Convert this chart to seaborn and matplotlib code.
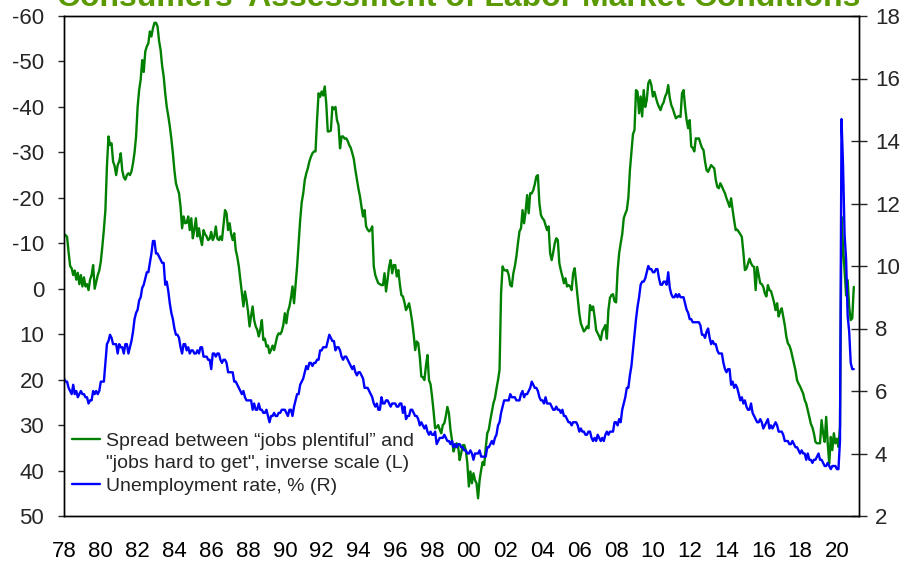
import pandas as pd
import seaborn as sns
import matplotlib.pyplot as plt
from matplotlib.lines import Line2D

# Monthly values, Jan 1978 - Dec 2020, one row per year
spread = [
    -12.0, -11.8, -11.4, -8.0, -5.0, -4.5, -3.0, -4.0, -2.0, -3.5, -1.0, -3.0,          # 1978
    -0.5, -2.5, -0.5, -1.0, 0.3, -2.0, -3.0, -5.2, 0.0, -1.5, -3.0, -4.0,               # 1979
    -6.0, -9.3, -13.0, -17.3, -27.0, -33.5, -31.6, -32.0, -28.0, -27.0, -25.0, -27.2,   # 1980
    -28.0, -29.8, -26.0, -24.5, -24.0, -25.0, -25.4, -25.0, -25.8, -27.6, -30.0, -33.5, # 1981
    -40.0, -43.7, -46.0, -50.3, -47.7, -52.2, -53.3, -54.0, -56.6, -55.5, -57.3, -58.5, # 1982
    -58.5, -57.7, -54.5, -52.5, -49.0, -46.7, -43.0, -40.0, -38.0, -35.7, -33.0, -29.8, # 1983
    -26.0, -23.2, -22.0, -21.0, -18.0, -13.3, -15.9, -14.4, -14.5, -15.9, -12.9, -15.5, # 1984
    -11.1, -13.0, -15.5, -11.5, -13.3, -11.0, -9.6, -12.9, -12.0, -11.5, -10.7, -11.0,  # 1985
    -12.5, -10.7, -11.5, -13.7, -11.0, -10.7, -11.5, -10.7, -14.0, -17.3, -16.6, -12.9, # 1986
    -14.4, -12.0, -10.7, -12.2, -8.5, -7.0, -4.9, -2.0, 1.0, 3.9, 0.6, 2.5,             # 1987
    5.0, 8.3, 6.0, 3.9, 6.9, 8.3, 9.0, 10.5, 9.0, 6.9, 11.3, 11.0,                      # 1988
    12.7, 12.5, 14.2, 13.5, 12.5, 13.5, 12.0, 10.5, 9.8, 10.0, 9.4, 8.0,                # 1989
    5.4, 7.6, 5.0, 3.9, 2.0, -0.5, 3.2, -1.0, -4.9, -10.0, -15.1, -19.0,                # 1990
    -21.0, -23.9, -25.4, -26.5, -28.0, -29.0, -29.8, -30.2, -30.2, -37.1, -43.0, -42.2, # 1991
    -43.4, -42.5, -44.5, -40.8, -34.6, -34.6, -34.8, -40.0, -39.5, -40.0, -37.1, -36.0, # 1992
    -30.9, -33.5, -33.5, -33.0, -33.1, -32.5, -31.6, -31.0, -29.8, -28.5, -26.1, -24.0, # 1993
    -22.0, -20.3, -18.0, -15.9, -17.3, -13.7, -13.0, -12.6, -13.0, -13.7, -4.9, -3.0,   # 1994
    -2.0, -1.2, -1.0, -0.8, -0.8, -3.4, 0.6, -2.0, -4.9, -6.3, -3.4, -5.2,              # 1995
    -5.2, -2.7, -4.1, -1.0, 1.4, 1.7, 3.0, 4.7, 4.0, 3.2, 5.0, 7.2,                     # 1996
    10.0, 13.5, 11.6, 12.0, 15.0, 19.3, 19.5, 20.1, 17.0, 14.6, 20.1, 21.0,             # 1997
    23.7, 27.0, 30.7, 30.5, 30.0, 31.0, 31.8, 30.0, 29.6, 28.0, 26.0, 27.4,             # 1998
    31.0, 33.3, 35.8, 34.7, 34.0, 34.7, 37.7, 36.2, 34.4, 34.4, 35.5, 38.4,             # 1999
    43.5, 40.2, 42.8, 40.6, 42.1, 42.8, 46.1, 42.1, 39.9, 38.1, 38.8, 35.0,             # 2000
    31.8, 31.0, 28.9, 27.0, 25.2, 24.1, 22.0, 20.1, 17.9, 1.0, -4.9, -4.1,              # 2001
    -4.0, -4.1, -3.0, -0.8, -0.5, -3.4, -5.0, -7.1, -10.0, -12.6, -13.3, -17.3,         # 2002
    -14.4, -17.0, -20.6, -16.6, -21.0, -21.0, -21.7, -23.0, -24.7, -25.0, -18.8, -16.2, # 2003
    -15.5, -15.1, -14.0, -12.9, -13.7, -7.8, -6.3, -8.0, -10.0, -11.1, -10.7, -5.6,     # 2004
    -4.0, -2.7, -1.2, -2.3, -0.5, -0.8, -0.5, 0.3, -3.4, -4.5, -1.2, 2.0,               # 2005
    5.4, 7.6, 8.5, 9.4, 9.0, 8.3, 8.7, 3.6, 4.7, 3.9, 6.2, 9.1,                         # 2006
    9.8, 10.5, 11.3, 9.4, 8.7, 8.0, 11.0, 4.7, 2.0, 1.4, 1.2, 2.8,                      # 2007
    3.0, -4.0, -7.8, -10.0, -12.0, -15.5, -16.5, -17.3, -20.0, -26.0, -30.0, -34.0,     # 2008
    -34.9, -43.7, -43.3, -38.6, -42.3, -37.9, -43.7, -40.0, -41.5, -45.2, -45.9, -44.8, # 2009
    -42.3, -43.3, -42.0, -40.8, -40.0, -39.3, -40.4, -41.0, -42.3, -43.0, -44.8, -42.0, # 2010
    -40.4, -39.6, -38.5, -37.5, -37.8, -38.0, -37.8, -43.0, -43.7, -40.0, -37.1, -35.3, # 2011
    -37.1, -31.3, -31.0, -30.2, -33.1, -33.0, -33.1, -32.0, -31.0, -30.5, -28.0, -26.1, # 2012
    -25.7, -26.5, -27.2, -26.8, -26.5, -24.0, -22.4, -22.1, -23.2, -22.5, -21.7, -21.0, # 2013
    -19.9, -19.0, -18.0, -19.9, -17.3, -15.0, -12.9, -13.0, -12.5, -12.0, -11.4, -8.0,  # 2014
    -4.1, -4.4, -5.5, -6.6, -5.6, -5.0, -4.8, 0.3, -4.8, -3.0, -1.2, -1.0,              # 2015
    -0.4, 1.0, 1.7, -0.8, 0.3, 0.5, 1.7, 3.0, 4.7, 3.2, 6.1, 5.0,                       # 2016
    4.3, 6.1, 8.0, 10.5, 12.0, 12.5, 13.5, 15.0, 16.5, 18.0, 20.1, 20.9,                # 2017
    21.5, 22.3, 23.1, 24.5, 25.3, 26.7, 28.2, 29.7, 30.5, 31.8, 33.7, 34.0,             # 2018
    34.0, 34.0, 28.9, 31.8, 33.7, 28.2, 34.0, 38.5, 32.6, 35.5, 31.8, 34.0,             # 2019
    33.0, 34.8, 30.4, -15.8, -9.0, -4.0, 1.5, -1.9, 4.0, 6.9, 6.5, -0.4,                # 2020
]

unemployment = [
    6.4, 6.3, 6.3, 6.1, 6.0, 5.9, 6.2, 5.9, 6.0, 5.8, 5.9, 6.0,        # 1978
    5.9, 5.9, 5.8, 5.8, 5.6, 5.7, 5.7, 6.0, 5.9, 6.0, 5.9, 6.0,        # 1979
    6.3, 6.3, 6.3, 6.9, 7.5, 7.6, 7.8, 7.7, 7.5, 7.5, 7.5, 7.2,        # 1980
    7.5, 7.4, 7.4, 7.2, 7.5, 7.5, 7.2, 7.4, 7.6, 7.9, 8.3, 8.5,        # 1981
    8.6, 8.9, 9.0, 9.3, 9.4, 9.6, 9.8, 9.8, 10.1, 10.4, 10.8, 10.8,    # 1982
    10.4, 10.4, 10.3, 10.2, 10.1, 10.1, 9.4, 9.5, 9.2, 8.8, 8.5, 8.3,  # 1983
    8.0, 7.8, 7.8, 7.7, 7.4, 7.2, 7.5, 7.5, 7.3, 7.4, 7.2, 7.3,        # 1984
    7.3, 7.2, 7.2, 7.3, 7.2, 7.4, 7.4, 7.1, 7.1, 7.1, 7.0, 7.0,        # 1985
    6.7, 7.2, 7.2, 7.1, 7.2, 7.2, 7.0, 6.9, 7.0, 7.0, 6.9, 6.6,        # 1986
    6.6, 6.6, 6.6, 6.3, 6.3, 6.2, 6.1, 6.0, 5.9, 6.0, 5.8, 5.7,        # 1987
    5.7, 5.7, 5.7, 5.4, 5.6, 5.4, 5.4, 5.6, 5.4, 5.4, 5.3, 5.3,        # 1988
    5.4, 5.2, 5.0, 5.2, 5.2, 5.3, 5.2, 5.2, 5.3, 5.3, 5.4, 5.4,        # 1989
    5.4, 5.3, 5.2, 5.4, 5.4, 5.2, 5.5, 5.7, 5.9, 5.9, 6.2, 6.3,        # 1990
    6.4, 6.6, 6.8, 6.7, 6.9, 6.9, 6.8, 6.9, 6.9, 7.0, 7.0, 7.3,        # 1991
    7.3, 7.4, 7.4, 7.4, 7.6, 7.8, 7.7, 7.6, 7.6, 7.3, 7.4, 7.4,        # 1992
    7.3, 7.1, 7.0, 7.1, 7.1, 7.0, 6.9, 6.8, 6.7, 6.8, 6.6, 6.5,        # 1993
    6.6, 6.6, 6.5, 6.4, 6.1, 6.1, 6.1, 6.0, 5.9, 5.8, 5.6, 5.5,        # 1994
    5.6, 5.4, 5.4, 5.8, 5.6, 5.6, 5.7, 5.7, 5.6, 5.5, 5.6, 5.6,        # 1995
    5.6, 5.5, 5.5, 5.6, 5.6, 5.3, 5.5, 5.1, 5.2, 5.2, 5.4, 5.4,        # 1996
    5.3, 5.2, 5.2, 5.1, 4.9, 5.0, 4.9, 4.8, 4.9, 4.7, 4.6, 4.7,        # 1997
    4.6, 4.6, 4.7, 4.3, 4.4, 4.5, 4.5, 4.5, 4.6, 4.5, 4.4, 4.4,        # 1998
    4.3, 4.4, 4.2, 4.3, 4.2, 4.3, 4.3, 4.2, 4.2, 4.1, 4.1, 4.0,        # 1999
    4.0, 4.1, 4.0, 3.8, 4.0, 4.0, 4.0, 4.1, 3.9, 3.9, 3.9, 3.9,        # 2000
    4.2, 4.2, 4.3, 4.4, 4.3, 4.5, 4.6, 4.9, 5.0, 5.3, 5.5, 5.7,        # 2001
    5.7, 5.7, 5.7, 5.9, 5.8, 5.8, 5.8, 5.7, 5.7, 5.7, 5.9, 6.0,        # 2002
    5.8, 5.9, 5.9, 6.0, 6.1, 6.3, 6.2, 6.1, 6.1, 6.0, 5.8, 5.7,        # 2003
    5.7, 5.6, 5.8, 5.6, 5.6, 5.6, 5.5, 5.4, 5.4, 5.5, 5.4, 5.4,        # 2004
    5.3, 5.4, 5.2, 5.2, 5.1, 5.0, 5.0, 4.9, 5.0, 5.0, 5.0, 4.9,        # 2005
    4.7, 4.8, 4.7, 4.7, 4.6, 4.6, 4.7, 4.7, 4.5, 4.4, 4.5, 4.4,        # 2006
    4.6, 4.5, 4.4, 4.5, 4.4, 4.6, 4.7, 4.6, 4.7, 4.7, 4.7, 5.0,        # 2007
    5.0, 4.9, 5.1, 5.0, 5.4, 5.6, 5.8, 6.1, 6.1, 6.5, 6.8, 7.3,        # 2008
    7.8, 8.3, 8.7, 9.0, 9.4, 9.5, 9.5, 9.6, 9.8, 10.0, 9.9, 9.9,       # 2009
    9.8, 9.8, 9.9, 9.9, 9.6, 9.4, 9.4, 9.5, 9.5, 9.4, 9.8, 9.3,        # 2010
    9.1, 9.0, 9.0, 9.1, 9.0, 9.1, 9.0, 9.0, 9.0, 8.8, 8.6, 8.5,        # 2011
    8.3, 8.3, 8.2, 8.2, 8.2, 8.2, 8.2, 8.1, 7.8, 7.8, 7.7, 7.9,        # 2012
    8.0, 7.7, 7.5, 7.6, 7.5, 7.5, 7.3, 7.2, 7.2, 7.2, 6.9, 6.7,        # 2013
    6.6, 6.7, 6.7, 6.2, 6.3, 6.1, 6.2, 6.1, 5.9, 5.7, 5.8, 5.6,        # 2014
    5.7, 5.5, 5.4, 5.4, 5.6, 5.3, 5.2, 5.1, 5.0, 5.0, 5.1, 5.0,        # 2015
    4.8, 4.9, 5.0, 5.1, 4.8, 4.9, 4.8, 4.9, 5.0, 4.9, 4.7, 4.7,        # 2016
    4.7, 4.6, 4.4, 4.4, 4.4, 4.3, 4.3, 4.4, 4.3, 4.2, 4.2, 4.1,        # 2017
    4.0, 4.1, 4.0, 4.0, 3.8, 4.0, 3.8, 3.8, 3.7, 3.8, 3.8, 3.9,        # 2018
    4.0, 3.8, 3.8, 3.7, 3.6, 3.6, 3.7, 3.6, 3.5, 3.6, 3.6, 3.6,        # 2019
    3.5, 3.5, 4.4, 14.7, 13.2, 11.0, 10.2, 8.4, 7.9, 6.9, 6.7, 6.7,    # 2020
]

first_month = '1978-01'
tick_years = list(range(1978, 2022))
left_ticks = list(range(-60, 51, 10))
right_ticks = list(range(2, 19, 2))

title = "Consumers' Assessment of Labor Market Conditions"
legend_lines = ['Spread between “jobs plentiful” and',
                '"jobs hard to get", inverse scale (L)',
                'Unemployment rate, % (R)']

GREEN = '#008000'
BLUE = '#0000ff'
TITLE_GREEN = '#5a9a00'

sns.set_style('white')
plt.rcParams['font.family'] = ['Liberation Sans', 'DejaVu Sans']

months = pd.date_range(first_month, periods=len(spread), freq='MS')
df = pd.DataFrame({'date': months.year + (months.month - 1) / 12,
                   'spread': spread,
                   'unemp': unemployment})

W, H = 905, 563
fig = plt.figure(figsize=(W / 100, H / 100), dpi=100)
ax = fig.add_axes([64 / W, 1 - 516 / H, 795 / W, 500 / H])
ax2 = ax.twinx()

sns.lineplot(data=df, x='date', y='spread', ax=ax, color=GREEN, lw=1.7)
sns.lineplot(data=df, x='date', y='unemp', ax=ax2, color=BLUE, lw=1.7)

# x axis: one tick a year, labels every two years
ax.set_xlim(1978, 2021.2)
ax.set_xticks(tick_years)
ax.set_xticklabels([f'{y % 100:02d}' if y % 2 == 0 else '' for y in tick_years])
ax.tick_params(axis='x', direction='in', length=6, width=1, pad=18,
               labelsize=16, colors='black')

# left axis, inverse scale
ax.set_ylim(50, -60)
ax.set_yticks(left_ticks)
ax.set_yticklabels([str(v) for v in left_ticks])
ax.tick_params(axis='y', direction='out', length=4.3, width=1, pad=10,
               labelsize=16, left=True)

# right axis
ax2.set_ylim(2, 18)
ax2.set_yticks(right_ticks)
ax2.tick_params(axis='y', direction='inout', length=11, width=1, pad=6,
                labelsize=16, right=True)

for a in (ax, ax2):
    a.set_xlabel('')
    a.set_ylabel('')
    for s in a.spines.values():
        s.set_color('black')
        s.set_linewidth(1.0)

handles = [Line2D([], [], color=GREEN, lw=1.7),
           Line2D([], [], color='none', lw=0),
           Line2D([], [], color=BLUE, lw=1.7)]
ax2.legend(handles, legend_lines, loc='upper left',
           bbox_to_anchor=(8 / 795, (516 - 432) / 500),
           frameon=False, fontsize=14, borderpad=0, borderaxespad=0,
           handlelength=1.45, handletextpad=0.3, labelspacing=0.25)

fig.text(459 / W, 1 - 6 / H, title, ha='center', va='baseline',
         fontsize=23, fontweight='bold', color=TITLE_GREEN)

fig.savefig('out.png', dpi=100)
